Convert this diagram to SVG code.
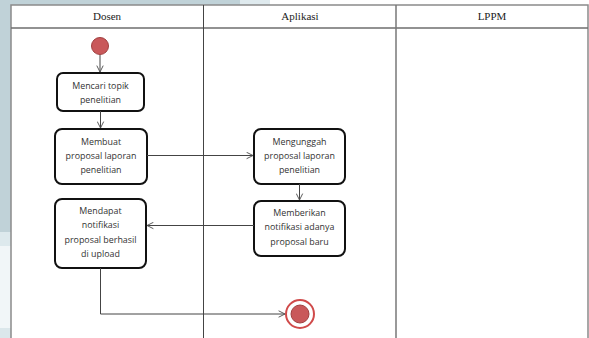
<svg xmlns="http://www.w3.org/2000/svg" width="589" height="338" viewBox="0 0 589 338">
<defs>
<style>
.node rect{fill:#fff;stroke:#111;stroke-width:2}
.node text{font-family:"Open Sans","Liberation Sans",sans-serif;font-size:8.9px;fill:#333;text-anchor:middle}
.hdr{font-family:"Liberation Serif","DejaVu Serif",serif;font-size:11px;fill:#222;text-anchor:middle}
.edge{fill:none;stroke:#444;stroke-width:1}
</style>
<marker id="arr" viewBox="0 0 10 10" refX="9" refY="5" markerWidth="8" markerHeight="8" markerUnits="userSpaceOnUse" orient="auto">
<path d="M1,1 L9,5 L1,9" fill="none" stroke="#555" stroke-width="1.2"/>
</marker>
</defs>
<rect x="0" y="0" width="589" height="338" fill="#fff"/>
<rect x="0" y="0" width="240" height="5" fill="#c0d2d8"/>
<rect x="240" y="0" width="30" height="5" fill="#dfeaee"/>
<rect x="0" y="0" width="11" height="232" fill="#c0d2d8"/>
<rect x="0" y="232" width="11" height="14" fill="#dde9ed"/>
<rect x="0" y="246" width="11" height="82" fill="#f1f6f8"/>
<rect x="0" y="328" width="11" height="10" fill="#dbe7eb"/>
<g id="lanes">
<rect x="11" y="5" width="577" height="340" fill="#fff" stroke="#8a8a8a" stroke-width="1.5"/>
<line x1="11" y1="28" x2="588" y2="28" stroke="#6e6e6e" stroke-width="1.5"/>
<line x1="203.5" y1="5" x2="203.5" y2="338" stroke="#444" stroke-width="1"/>
<line x1="396" y1="5" x2="396" y2="338" stroke="#777" stroke-width="1.5"/>
<text class="hdr" x="107" y="20">Dosen</text>
<text class="hdr" x="300" y="20">Aplikasi</text>
<text class="hdr" x="492" y="20">LPPM</text>
</g>
<g id="start">
<circle cx="100" cy="46" r="8.5" fill="#c9585a" stroke="#a04040" stroke-width="1"/>
</g>
<g id="n1" class="node">
<rect x="57" y="73" width="87" height="38" rx="6"/>
<text x="100.5" y="89">Mencari topik</text>
<text x="100.5" y="103">penelitian</text>
</g>
<g id="n2" class="node">
<rect x="55" y="129" width="92" height="55" rx="7"/>
<text x="101" y="145">Membuat</text>
<text x="101" y="159">proposal laporan</text>
<text x="101" y="173">penelitian</text>
</g>
<g id="n3" class="node">
<rect x="55" y="199" width="91" height="69" rx="7"/>
<text x="100.5" y="214">Mendapat</text>
<text x="100.5" y="228">notifikasi</text>
<text x="100.5" y="243">proposal berhasil</text>
<text x="100.5" y="257">di upload</text>
</g>
<g id="n4" class="node">
<rect x="254" y="129" width="91" height="55" rx="7"/>
<text x="299.5" y="145">Mengunggah</text>
<text x="299.5" y="159">proposal laporan</text>
<text x="299.5" y="173">penelitian</text>
</g>
<g id="n5" class="node">
<rect x="254" y="201" width="91" height="55" rx="7"/>
<text x="299.5" y="216">Memberikan</text>
<text x="299.5" y="230">notifikasi adanya</text>
<text x="299.5" y="245">proposal baru</text>
</g>
<g id="end">
<circle cx="300" cy="314" r="14" fill="#fff" stroke="#d04a4a" stroke-width="2"/>
<circle cx="300" cy="314" r="9" fill="#c9585a" stroke="#a04040" stroke-width="1"/>
</g>
<g id="connectors">
<path class="edge" d="M100,55 L100,72" marker-end="url(#arr)"/>
<path class="edge" d="M100.5,111 L100.5,128" marker-end="url(#arr)"/>
<path class="edge" d="M147,155.5 L253,155.5" marker-end="url(#arr)"/>
<path class="edge" d="M299.5,184 L299.5,200" marker-end="url(#arr)"/>
<path class="edge" d="M254,225.5 L147,225.5" marker-end="url(#arr)"/>
<path class="edge" d="M100.5,268 L100.5,314 L285,314" marker-end="url(#arr)"/>
</g>
</svg>
